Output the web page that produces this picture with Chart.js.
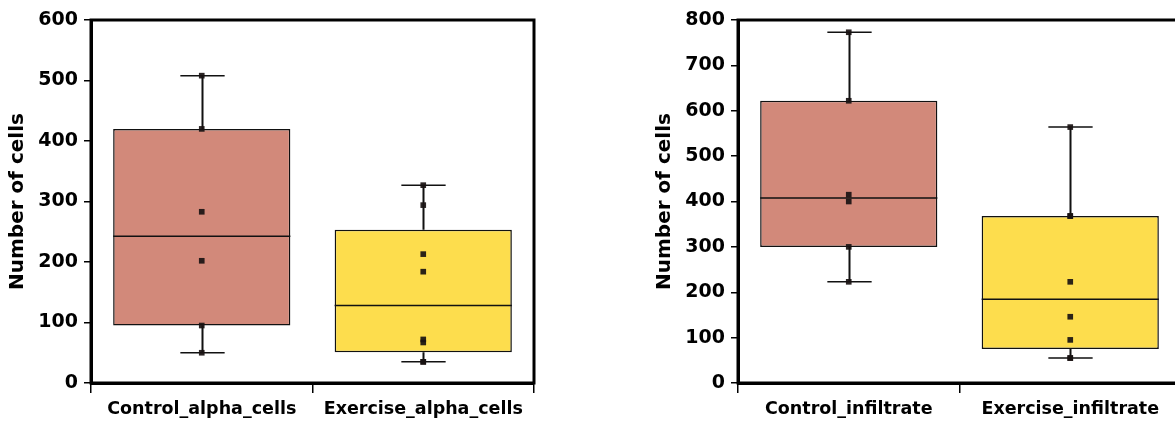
<!DOCTYPE html>
<html>
<head>
<meta charset="utf-8">
<script src="https://cdn.jsdelivr.net/npm/chart.js@4/dist/chart.umd.min.js"></script>
<style>
  html, body { margin: 0; padding: 0; background: #fff; overflow: hidden; }
  body { width: 1175px; height: 423px; position: relative; }
  canvas { position: absolute; top: 0; }
  #alphaChart { left: 0; }
  #infiltrateChart { left: 647px; }
</style>
</head>
<body>
<canvas id="alphaChart" width="590" height="423"></canvas>
<canvas id="infiltrateChart" width="590" height="423"></canvas>
<script>
var alphaLabels = ['Control_alpha_cells', 'Exercise_alpha_cells'];
var controlAlpha = [50, 95, 202, 283, 420, 508];
var exerciseAlpha = [35, 35, 67, 72, 184, 213, 294, 327];

var infiltrateLabels = ['Control_infiltrate', 'Exercise_infiltrate'];
var controlInfiltrate = [223, 300, 400, 415, 622, 773];
var exerciseInfiltrate = [55, 55, 95, 146, 223, 368, 368, 564];

var alphaMax = 600;
var infiltrateMax = 800;
var tickStep = 100;

var boxColors = ['#d2897a', '#fddd4d'];
var fontFamily = '"DejaVu Sans", sans-serif';

function median(arr) {
    var n = arr.length;
    var mid = Math.floor(n / 2);
    return n % 2 ? arr[mid] : (arr[mid - 1] + arr[mid]) / 2;
}

// five-number summary, hinges taken as medians of the lower and upper halves
function boxStats(values) {
    var s = values.slice().sort(function(a, b) { return a - b; });
    var half = Math.floor(s.length / 2);
    return {
        min: s[0],
        q1: median(s.slice(0, half)),
        median: median(s),
        q3: median(s.slice(s.length - half)),
        max: s[s.length - 1]
    };
}

var whiskerPlugin = {
    id: 'whiskers',
    afterDatasetDraw: function(chart, args) {
        var dataset = chart.data.datasets[args.index];
        if (!dataset.stats) return;
        var ctx = chart.ctx;
        var y = chart.scales.y;
        ctx.save();
        ctx.strokeStyle = '#111';
        args.meta.data.forEach(function(bar, i) {
            var st = dataset.stats[i];
            var props = bar.getProps(['x', 'width']);
            var half = props.width / 2;
            var cap = props.width * 0.125;
            var x = Math.round(props.x) + 0.5;
            var pMin = y.getPixelForValue(st.min);
            var pQ1 = y.getPixelForValue(st.q1);
            var pMed = y.getPixelForValue(st.median);
            var pQ3 = y.getPixelForValue(st.q3);
            var pMax = y.getPixelForValue(st.max);

            ctx.lineWidth = 2;
            ctx.beginPath();
            ctx.moveTo(x, pQ3);
            ctx.lineTo(x, pMax);
            ctx.moveTo(x, pQ1);
            ctx.lineTo(x, pMin);
            ctx.stroke();

            ctx.lineWidth = 1.5;
            ctx.beginPath();
            ctx.moveTo(x - cap, pMax);
            ctx.lineTo(x + cap, pMax);
            ctx.moveTo(x - cap, pMin);
            ctx.lineTo(x + cap, pMin);
            ctx.moveTo(props.x - half, pMed);
            ctx.lineTo(props.x + half, pMed);
            ctx.stroke();
        });
        ctx.restore();
    },
    afterDraw: function(chart) {
        var a = chart.chartArea;
        var ctx = chart.ctx;
        ctx.save();
        ctx.strokeStyle = '#000';
        ctx.lineWidth = 3;
        ctx.strokeRect(a.left, a.top, a.right - a.left, a.bottom - a.top);
        ctx.restore();
    }
};

function buildBoxChart(elementId, labels, groups, yMax) {
    var stats = groups.map(boxStats);
    var points = [];
    groups.forEach(function(values, i) {
        values.forEach(function(v) {
            points.push({ x: labels[i], y: v });
        });
    });
    var data = {
        labels: labels,
        datasets: [{
            type: 'bar',
            order: 2,
            data: stats.map(function(st) { return [st.q1, st.q3]; }),
            stats: stats,
            backgroundColor: boxColors,
            borderColor: '#111',
            borderWidth: 1.5,
            borderSkipped: false,
            categoryPercentage: 0.8,
            barPercentage: 1.0
        }, {
            type: 'line',
            order: 1,
            data: points,
            showLine: false,
            pointStyle: 'rect',
            pointRadius: 4,
            pointBackgroundColor: 'rgba(25,18,18,0.92)',
            pointBorderWidth: 0
        }]
    };
    var config = {
        type: 'bar',
        data: data,
        plugins: [whiskerPlugin],
        options: {
            responsive: false,
            animation: false,
            layout: {
                padding: { top: 20, right: 56, left: 0, bottom: 0 }
            },
            plugins: {
                legend: { display: false },
                tooltip: { enabled: false }
            },
            scales: {
                x: {
                    offset: true,
                    afterFit: function(scale) { scale.height = 40; },
                    border: { color: '#000', width: 3 },
                    grid: {
                        offset: true,
                        drawOnChartArea: false,
                        tickLength: 10,
                        color: '#000',
                        lineWidth: 1.5
                    },
                    ticks: {
                        color: '#000',
                        padding: 6,
                        font: { family: fontFamily, weight: 'bold', size: 17.5 }
                    }
                },
                y: {
                    min: 0,
                    max: yMax,
                    afterFit: function(scale) { scale.width = 91; },
                    border: { color: '#000', width: 3 },
                    grid: {
                        drawOnChartArea: false,
                        tickLength: 7,
                        color: '#000',
                        lineWidth: 1.5
                    },
                    ticks: {
                        stepSize: tickStep,
                        color: '#000',
                        padding: 6,
                        font: { family: fontFamily, weight: 'bold', size: 19 }
                    },
                    title: {
                        display: true,
                        text: 'Number of cells',
                        color: '#000',
                        padding: { top: 6, bottom: 0 },
                        font: { family: fontFamily, weight: 'bold', size: 20 }
                    }
                }
            }
        }
    };
    return new Chart(document.getElementById(elementId), config);
}

buildBoxChart('alphaChart', alphaLabels, [controlAlpha, exerciseAlpha], alphaMax);
buildBoxChart('infiltrateChart', infiltrateLabels, [controlInfiltrate, exerciseInfiltrate], infiltrateMax);
</script>
</body>
</html>
